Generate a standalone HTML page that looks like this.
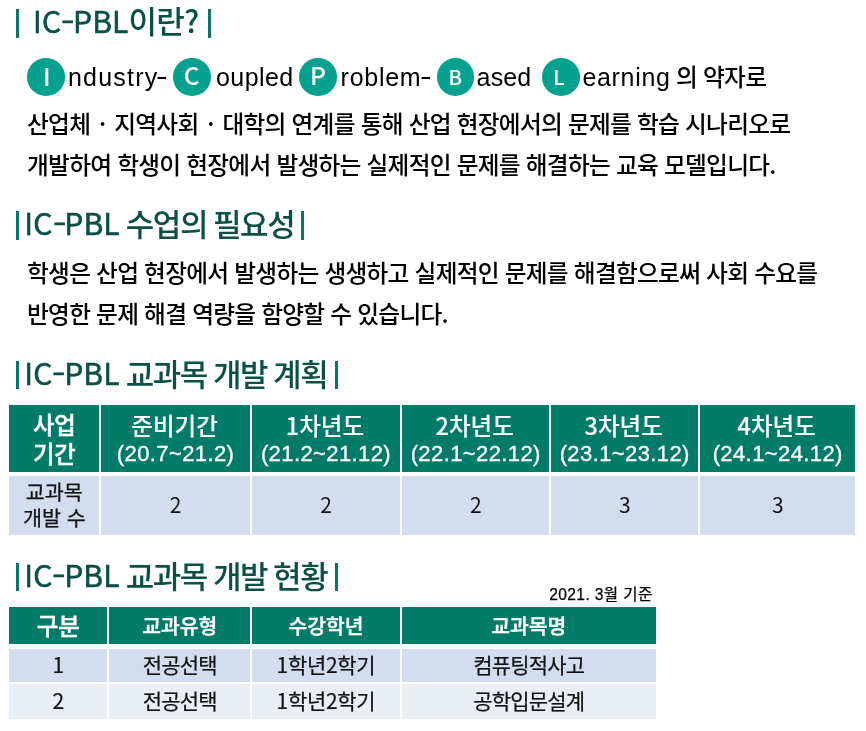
<!DOCTYPE html>
<html lang="ko">
<head>
<meta charset="utf-8">
<title>IC-PBL</title>
<style>
html,body{margin:0;padding:0;background:#fff;}
body{width:866px;height:731px;position:relative;overflow:hidden;font-family:"Liberation Sans","Noto Sans CJK KR",sans-serif;color:#000;}
.abs{position:absolute;white-space:nowrap;}
.h{position:absolute;white-space:nowrap;color:#0b4f46;font-family:"Noto Sans CJK KR","Liberation Sans",sans-serif;font-size:31px;font-weight:500;letter-spacing:-0.5px;word-spacing:-1.2px;line-height:40px;height:40px;}
.bar{position:absolute;width:3px;background:#0a7766;}
.p{position:absolute;white-space:nowrap;font-family:"Noto Sans CJK KR","Liberation Sans",sans-serif;font-size:23.7px;letter-spacing:-0.73px;line-height:36px;height:36px;color:#000;font-weight:500;}
.dash{transform:scaleX(1.4);transform-origin:0 50%;}
.hl{letter-spacing:0.15px;font-size:30px;position:relative;top:-0.6px;font-weight:400;-webkit-text-stroke:0.55px #0b4f46;}
.hd{display:inline-block;transform:scaleX(1.28);transform-origin:0 50%;margin-right:1.2px;}
.dot{display:inline-block;white-space:pre;width:24px;text-align:center;}
.lat{font-family:"Liberation Sans","Noto Sans CJK KR",sans-serif;letter-spacing:0.6px;font-weight:400;font-size:25px}
.circ{position:absolute;width:37.6px;height:37.6px;border-radius:50%;background:#04a28e;font-weight:500;color:#fff;text-align:center;font-family:"Noto Sans CJK KR","Liberation Sans",sans-serif;font-size:24.6px;line-height:33.8px;}
.cell{position:absolute;display:flex;align-items:center;justify-content:center;text-align:center;font-family:"Noto Sans CJK KR","Liberation Sans",sans-serif;}
.th{background:#007b6a;color:#fff;font-weight:700;}
.t1a{position:absolute;left:0;right:2px;top:5px;font-size:23.5px;line-height:30px;font-weight:500;-webkit-text-stroke:0.12px #fff;}
.t1b{position:absolute;left:0;right:0;top:33.5px;font-size:22px;line-height:30px;font-weight:400;font-family:"Liberation Sans","Noto Sans CJK KR",sans-serif;letter-spacing:0.4px;-webkit-text-stroke:0.35px #fff;}
.t2{font-size:21px;font-weight:400;-webkit-text-stroke:0.22px #111;padding-bottom:2px;box-sizing:border-box;}
.r1{background:#d2ddef;color:#111;}
.r2{background:#e9eef7;color:#111;}
</style>
</head>
<body>

<!-- Heading 1 -->
<div class="bar" style="left:16px;top:9px;height:29px"></div>
<div class="h" id="h1" style="left:33px;top:-0.5px;letter-spacing:-0.72px"><span class="hl" style="top:0.5px">IC<span class="hd">-</span>PBL</span>이란?</div>
<div class="bar" style="left:208px;top:9px;height:29px"></div>

<!-- acronym line -->
<div class="circ" id="c1" style="left:26.9px;top:58.1px;width:38.4px;line-height:35.8px"><span style="position:relative;left:0.6px">I</span></div>
<div class="p lat" id="w1" style="left:68.0px;top:59px;letter-spacing:1.2px">ndustry</div>
<div class="p lat dash" id="d1" style="left:155.8px;top:57.7px;letter-spacing:0.6px">-</div>
<div class="circ" id="c2" style="left:173.0px;top:58.1px">C</div>
<div class="p lat" id="w2" style="left:216.0px;top:59px;letter-spacing:0.44px">oupled</div>
<div class="circ" id="c3" style="left:299.1px;top:58.1px">P</div>
<div class="p lat" id="w3" style="left:340.6px;top:59px;letter-spacing:0.72px">roblem</div>
<div class="p lat dash" id="d3" style="left:420.0px;top:57.7px;letter-spacing:0.2px">-</div>
<div class="circ" id="c4" style="left:436.5px;top:58.1px;font-size:20.3px;line-height:36.7px">B</div>
<div class="p lat" id="w4" style="left:476.6px;top:59px;letter-spacing:0.13px">ased</div>
<div class="circ" id="c5" style="left:541.5px;top:58.1px;font-size:20.3px;line-height:36.7px;width:38.4px"><span style="position:relative;left:-1.9px">L</span></div>
<div class="p lat" id="w5" style="left:582.4px;top:59px;letter-spacing:0.7px">earning</div>
<div class="p" id="w6" style="left:676px;top:58px">의</div>
<div class="p" id="w7" style="left:703px;top:58px">약자로</div>

<div class="p" id="l2" style="left:27px;top:105px">산업체<span class="dot"> · </span>지역사회<span class="dot"> · </span>대학의 연계를 통해 산업 현장에서의 문제를 학습 시나리오로</div>
<div class="p" id="l3" style="left:27px;top:146px">개발하여 학생이 현장에서 발생하는 실제적인 문제를 해결하는 교육 모델입니다.</div>

<!-- Heading 2 -->
<div class="bar" style="left:16px;top:211.3px;height:28.7px"></div>
<div class="h" id="h2" style="left:24.3px;top:203px;letter-spacing:-1.45px"><span class="hl">IC<span class="hd">-</span>PBL</span> 수업의 필요성</div>
<div class="bar" style="left:301px;top:211.3px;height:28.7px"></div>

<div class="p" id="l4" style="left:27px;top:254px">학생은 산업 현장에서 발생하는 생생하고 실제적인 문제를 해결함으로써 사회 수요를</div>
<div class="p" id="l5" style="left:27px;top:294.5px">반영한 문제 해결 역량을 함양할 수 있습니다.</div>

<!-- Heading 3 -->
<div class="bar" style="left:16px;top:360.7px;height:28.2px"></div>
<div class="h" id="h3" style="left:24.2px;top:353px;letter-spacing:-1.45px"><span class="hl">IC<span class="hd">-</span>PBL</span> 교과목 개발 계획</div>
<div class="bar" style="left:335px;top:360.7px;height:28.2px"></div>

<!-- Table 1 -->
<div class="cell th" style="left:9.30px;top:405.0px;width:90.05px;height:66.9px;font-size:23.3px;line-height:29.2px;padding-top:1.5px;box-sizing:border-box;font-weight:500;-webkit-text-stroke:0.45px #fff">사업<br>기간</div>
<div class="cell th" style="left:101.25px;top:405.0px;width:148.6px;height:66.9px"><span class="t1a">준비기간</span><span class="t1b">(20.7~21.2)</span></div>
<div class="cell th" style="left:251.8px;top:405.0px;width:148.4px;height:66.9px"><span class="t1a">1차년도</span><span class="t1b">(21.2~21.12)</span></div>
<div class="cell th" style="left:402.1px;top:405.0px;width:147.3px;height:66.9px"><span class="t1a">2차년도</span><span class="t1b">(22.1~22.12)</span></div>
<div class="cell th" style="left:551.15px;top:405.0px;width:147.20px;height:66.9px"><span class="t1a">3차년도</span><span class="t1b">(23.1~23.12)</span></div>
<div class="cell th" style="left:700.25px;top:405.0px;width:154.95px;height:66.9px"><span class="t1a">4차년도</span><span class="t1b">(24.1~24.12)</span></div>

<div class="cell r1" style="left:9.30px;top:476px;width:90.05px;height:59.4px;font-size:20.7px;line-height:26.6px;font-weight:400;-webkit-text-stroke:0.25px #111;padding-bottom:2.5px;box-sizing:border-box">교과목<br>개발 수</div>
<div class="cell r1" style="left:101.25px;top:476px;width:148.6px;height:59.4px;font-size:21px;padding-bottom:3px;box-sizing:border-box">2</div>
<div class="cell r1" style="left:251.8px;top:476px;width:148.4px;height:59.4px;font-size:21px;padding-bottom:3px;box-sizing:border-box">2</div>
<div class="cell r1" style="left:402.1px;top:476px;width:147.3px;height:59.4px;font-size:21px;padding-bottom:3px;box-sizing:border-box">2</div>
<div class="cell r1" style="left:551.15px;top:476px;width:147.20px;height:59.4px;font-size:21px;padding-bottom:3px;box-sizing:border-box">3</div>
<div class="cell r1" style="left:700.25px;top:476px;width:154.95px;height:59.4px;font-size:21px;padding-bottom:3px;box-sizing:border-box">3</div>

<!-- Heading 4 -->
<div class="bar" style="left:16px;top:562.7px;height:28.2px"></div>
<div class="h" id="h4" style="left:24.2px;top:555px;letter-spacing:-1.45px"><span class="hl">IC<span class="hd">-</span>PBL</span> 교과목 개발 현황</div>
<div class="bar" style="left:335px;top:562.7px;height:28.2px"></div>

<div class="abs" id="date" style="left:549.2px;top:583.5px;letter-spacing:0.38px;font-size:15.6px;font-weight:400;line-height:22px;-webkit-text-stroke:0.25px #000;font-family:'Liberation Sans','Noto Sans CJK KR',sans-serif">2021. 3월 기준</div>

<!-- Table 2 -->
<div class="cell th" style="left:9.30px;top:606.9px;width:98.00px;height:36.9px;font-size:23.5px;font-weight:500;-webkit-text-stroke:0.4px #fff">구분</div>
<div class="cell th" style="left:109.10px;top:606.9px;width:141.20px;height:36.9px;font-size:20.4px;font-weight:500;-webkit-text-stroke:0.4px #fff">교과유형</div>
<div class="cell th" style="left:252.10px;top:606.9px;width:147.80px;height:36.9px;font-size:20.4px;font-weight:500;-webkit-text-stroke:0.4px #fff">수강학년</div>
<div class="cell th" style="left:401.80px;top:606.9px;width:253.80px;height:36.9px;font-size:20.4px;font-weight:500;-webkit-text-stroke:0.4px #fff">교과목명</div>

<div class="cell r1 t2" style="left:9.30px;top:648.7px;width:98.00px;height:33.5px;font-weight:400;padding-bottom:3.5px">1</div>
<div class="cell r1 t2" style="left:109.10px;top:648.7px;width:141.20px;height:33.5px;letter-spacing:-0.8px">전공선택</div>
<div class="cell r1 t2" style="left:252.10px;top:648.7px;width:147.80px;height:33.5px;letter-spacing:-0.3px">1학년2학기</div>
<div class="cell r1 t2" style="left:401.80px;top:648.7px;width:253.80px;height:33.5px;letter-spacing:-0.8px">컴퓨팅적사고</div>

<div class="cell r2 t2" style="left:9.30px;top:683.6px;width:98.00px;height:35.4px;font-weight:400;padding-bottom:3.5px">2</div>
<div class="cell r2 t2" style="left:109.10px;top:683.6px;width:141.20px;height:35.4px;letter-spacing:-0.8px">전공선택</div>
<div class="cell r2 t2" style="left:252.10px;top:683.6px;width:147.80px;height:35.4px;letter-spacing:-0.3px">1학년2학기</div>
<div class="cell r2 t2" style="left:401.80px;top:683.6px;width:253.80px;height:35.4px;letter-spacing:-0.8px">공학입문설계</div>

</body>
</html>
